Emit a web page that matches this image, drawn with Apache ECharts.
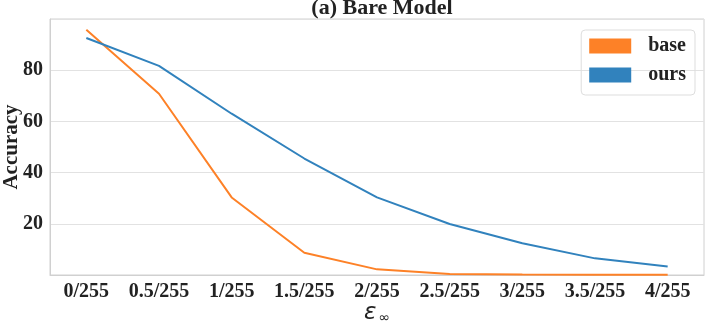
<!DOCTYPE html>
<html>
<head>
<meta charset="utf-8">
<script src="https://cdn.jsdelivr.net/npm/echarts@6/dist/echarts.min.js"></script>
<style>
  html, body { margin: 0; padding: 0; background: #fff; }
  #main { width: 706px; height: 323px; }
</style>
</head>
<body>
<div id="main"></div>
<script>
// epsilon budgets on the x axis
var categories = ['0/255', '0.5/255', '1/255', '1.5/255', '2/255', '2.5/255', '3/255', '3.5/255', '4/255'];
// accuracy (%)
var baseValues = [95.8, 70.8, 30.3, 8.7, 2.2, 0.4, 0.2, 0.1, 0.1];
var oursValues = [92.6, 81.7, 63.0, 45.5, 30.3, 19.9, 12.4, 6.5, 3.3];
var yTicks = [20, 40, 60, 80];

var serif = '"Liberation Serif", "DejaVu Serif", serif';
var myChart = echarts.init(document.getElementById('main'));

var option = {
    animation: false,
    title: {
        text: '(a) Bare Model',
        left: 377,
        textAlign: 'center',
        top: -8,
        textStyle: { fontFamily: serif, fontWeight: 'bold', fontSize: 22, color: '#222' }
    },
    legend: {
        orient: 'vertical',
        right: 11,
        top: 30,
        itemWidth: 42,
        itemHeight: 15,
        itemGap: 9,
        padding: [6, 9, 10, 8],
        borderColor: '#ddd',
        borderWidth: 1,
        borderRadius: 4,
        icon: 'rect',
        textStyle: { fontFamily: serif, fontWeight: 'bold', fontSize: 20, color: '#222', padding: [0, 0, 0, 12] },
        data: ['base', 'ours']
    },
    grid: {
        left: 50, right: 2, top: 19, bottom: 48,
        outerBoundsMode: 'none',
        containLabel: false,
        show: true, borderColor: '#d0d0d0', borderWidth: 1
    },
    xAxis: {
        type: 'category',
        data: categories,
        boundaryGap: true,
        axisLine: { lineStyle: { color: '#d0d0d0' } },
        axisTick: { show: false },
        axisLabel: { interval: 0, hideOverlap: false, fontFamily: serif, fontWeight: 'bold', fontSize: 20, color: '#222', margin: 7 },
        name: '{e|ε}{s|∞}',
        nameLocation: 'middle',
        nameMoveOverlap: false,
        nameGap: 27,
        nameTextStyle: {
            rich: {
                e: { fontFamily: '"DejaVu Sans", sans-serif', fontStyle: 'italic', fontSize: 23, color: '#222' },
                s: { fontFamily: '"DejaVu Sans", sans-serif', fontSize: 14, color: '#222', verticalAlign: 'bottom', padding: [9, 0, 0, 2] }
            }
        }
    },
    yAxis: {
        type: 'value',
        min: 0,
        max: 100,
        interval: 20,
        axisLine: { show: true, lineStyle: { color: '#d0d0d0' } },
        axisTick: { show: false },
        splitLine: { lineStyle: { color: '#e2e2e2', width: 1 } },
        axisLabel: {
            fontFamily: serif, fontWeight: 'bold', fontSize: 20, color: '#222', margin: 7,
            formatter: function (v) { return yTicks.indexOf(v) >= 0 ? String(v) : ''; }
        },
        name: 'Accuracy',
        nameLocation: 'middle',
        nameMoveOverlap: false,
        nameGap: 28,
        nameTextStyle: { fontFamily: serif, fontWeight: 'bold', fontSize: 21, color: '#222' }
    },
    series: [
        {
            name: 'base', type: 'line', data: baseValues,
            symbol: 'none', color: '#fd8127',
            lineStyle: { width: 2, color: '#fd8127' }
        },
        {
            name: 'ours', type: 'line', data: oursValues,
            symbol: 'none', color: '#3182bd',
            lineStyle: { width: 2, color: '#3182bd' }
        }
    ]
};
myChart.setOption(option);
</script>
</body>
</html>
